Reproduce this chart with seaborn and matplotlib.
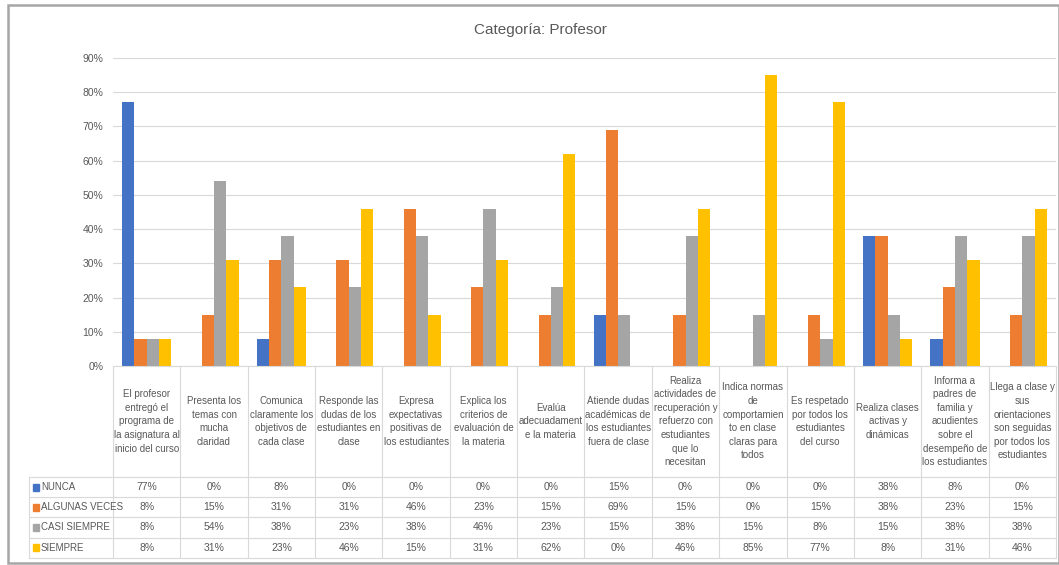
import pandas as pd
import matplotlib
matplotlib.use('Agg')
import matplotlib.pyplot as plt
import matplotlib.transforms as mtransforms
import seaborn as sns

# category labels as they are wrapped in the data table
categorias = [
    'El profesor\nentregó el\nprograma de\nla asignatura al\ninicio del curso',
    'Presenta los\ntemas con\nmucha\nclaridad',
    'Comunica\nclaramente los\nobjetivos de\ncada clase',
    'Responde las\ndudas de los\nestudiantes en\nclase',
    'Expresa\nexpectativas\npositivas de\nlos estudiantes',
    'Explica los\ncriterios de\nevaluación de\nla materia',
    'Evalúa\nadecuadament\ne la materia',
    'Atiende dudas\nacadémicas de\nlos estudiantes\nfuera de clase',
    'Realiza\nactividades de\nrecuperación y\nrefuerzo con\nestudiantes\nque lo\nnecesitan',
    'Indica normas\nde\ncomportamien\nto en clase\nclaras para\ntodos',
    'Es respetado\npor todos los\nestudiantes\ndel curso',
    'Realiza clases\nactivas y\ndinámicas',
    'Informa a\npadres de\nfamilia y\nacudientes\nsobre el\ndesempeño de\nlos estudiantes',
    'Llega a clase y\nsus\norientaciones\nson seguidas\npor todos los\nestudiantes',
]
series = ['NUNCA', 'ALGUNAS VECES', 'CASI SIEMPRE', 'SIEMPRE']
nunca = [77, 0, 8, 0, 0, 0, 0, 15, 0, 0, 0, 38, 8, 0]
algunas_veces = [8, 15, 31, 31, 46, 23, 15, 69, 15, 0, 15, 38, 23, 15]
casi_siempre = [8, 54, 38, 23, 38, 46, 23, 15, 38, 15, 8, 15, 38, 38]
siempre = [8, 31, 23, 46, 15, 31, 62, 0, 46, 85, 77, 8, 31, 46]
colores = ['#4472C4', '#ED7D31', '#A5A5A5', '#FFC000']

valores = [nunca, algunas_veces, casi_siempre, siempre]
rows = []
for s, vals in zip(series, valores):
    for i, v in enumerate(vals):
        rows.append({'cat': i, 'serie': s, 'pct': v / 100})
df = pd.DataFrame(rows)

W, H = 1059, 565
sns.set_style('white')
plt.rcParams['font.family'] = ['Liberation Sans', 'DejaVu Sans']
txt = '#595959'
grid = '#D9D9D9'

fig = plt.figure(figsize=(W / 100, H / 100), dpi=100)
ax = fig.add_axes([113 / W, 1 - 366 / H, (1056 - 113) / W, (366 - 58) / H])

sns.barplot(data=df, x='cat', y='pct', hue='serie', hue_order=series,
            palette=colores, width=0.73, gap=0, saturation=1, ax=ax,
            legend=False, errorbar=None, linewidth=0)

ax.set_xlim(-0.5, len(categorias) - 0.5)
ax.set_ylim(0, 0.9)
ax.set_yticks([i / 10 for i in range(10)])
ax.set_yticklabels([f'{i * 10}%' for i in range(10)])
ax.tick_params(axis='y', length=0, pad=7, labelsize=7.5, labelcolor=txt)
ax.set_xticks([])
ax.set_xlabel('')
ax.set_ylabel('')
ax.yaxis.grid(True, color=grid, lw=0.8)
ax.set_axisbelow(True)
for sp in ax.spines.values():
    sp.set_visible(False)

# helpers for the data table: x in data units, y in pixels from top
def fy(y):
    return 1 - y / H

blend = mtransforms.blended_transform_factory(ax.transData, fig.transFigure)
figt = fig.transFigure

tab_top, head_bot, row_h = 366, 477, 20.2
tab_bot = head_bot + row_h * 4
n = len(categorias)

# vertical lines between columns
for i in range(n + 1):
    fig.add_artist(plt.Line2D([i - 0.5, i - 0.5], [fy(tab_top), fy(tab_bot)],
                              transform=blend, color=grid, lw=0.8))
# horizontal lines
fig.add_artist(plt.Line2D([-0.5, n - 0.5], [fy(tab_top), fy(tab_top)],
                          transform=blend, color=grid, lw=0.8))
for r in range(5):
    yy = fy(head_bot + r * row_h)
    fig.add_artist(plt.Line2D([29 / W, 113 / W], [yy, yy], transform=figt,
                              color=grid, lw=0.8))
    fig.add_artist(plt.Line2D([-0.5, n - 0.5], [yy, yy], transform=blend,
                              color=grid, lw=0.8))
fig.add_artist(plt.Line2D([29 / W, 29 / W], [fy(head_bot), fy(tab_bot)],
                          transform=figt, color=grid, lw=0.8))

# header texts
for i, c in enumerate(categorias):
    fig.text(i, fy((tab_top + head_bot) / 2), c, transform=blend,
             ha='center', va='center', fontsize=7, color=txt,
             linespacing=1.45)

# rows with legend keys and values
for r, (s, vals, col) in enumerate(zip(series, valores, colores)):
    yc = fy(head_bot + row_h * (r + 0.5))
    fig.patches.append(plt.Rectangle((33 / W, yc - 3.5 / H), 6 / W, 7 / H,
                                     transform=figt, color=col))
    fig.text(41 / W, yc, s, ha='left', va='center', fontsize=7, color=txt)
    for i, v in enumerate(vals):
        fig.text(i, yc, f'{v}%', transform=blend, ha='center', va='center',
                 fontsize=7.5, color=txt)

fig.text(540 / W, fy(30), 'Categoría: Profesor', ha='center', va='center',
         fontsize=11, color=txt)

# chart border
fig.patches.append(plt.Rectangle((8 / W, fy(563)), (W - 8) / W, (563 - 5) / H,
                                 transform=figt, fill=False,
                                 edgecolor='#A6A6A6', lw=1.8))

fig.savefig('out.png', dpi=100)
